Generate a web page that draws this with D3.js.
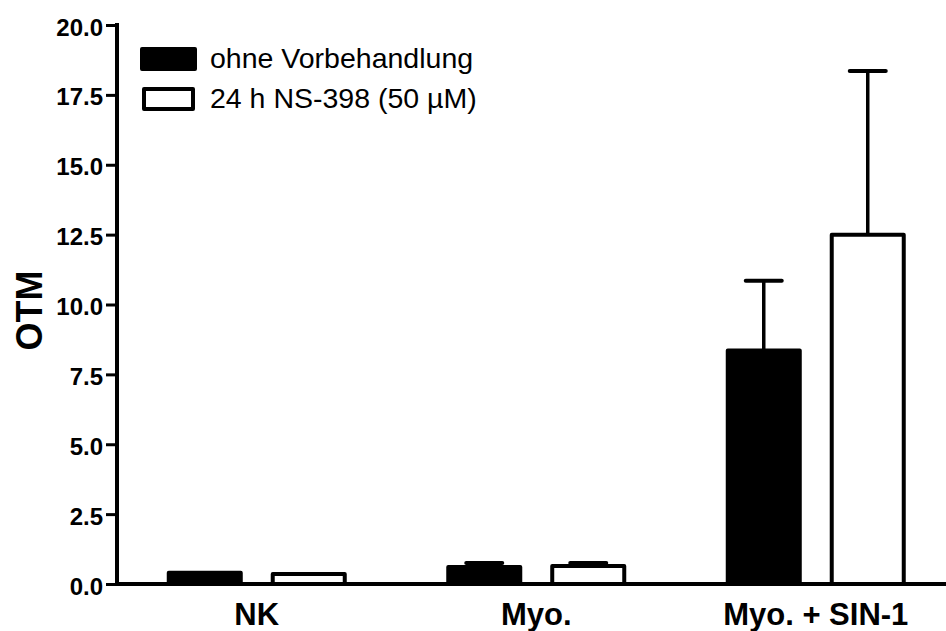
<!DOCTYPE html>
<html>
<head>
<meta charset="utf-8">
<script src="https://cdn.jsdelivr.net/npm/d3@7"></script>
<style>
  html, body { margin: 0; padding: 0; background: #fff; }
  svg { display: block; font-family: "Liberation Sans", Arial, sans-serif; }
</style>
</head>
<body>
<svg id="chart" width="946" height="631"></svg>
<script>
// Groups and treatment series
const categories = ["NK", "Myo.", "Myo. + SIN-1"];
const seriesNames = ["ohne Vorbehandlung", "24 h NS-398 (50 µM)"];
const untreatedMean = [0.40, 0.61, 8.35];
const untreatedErr  = [0.0, 0.14, 2.5];
const ns398Mean     = [0.36, 0.64, 12.5];
const ns398Err      = [0.0, 0.11, 5.85];
const yTicks = [0, 2.5, 5, 7.5, 10, 12.5, 15, 17.5, 20];
const yLabel = "OTM";

const svg = d3.select("#chart");
const x0 = 117, yBase = 584, yTop = 25, groupW = 279.5;
const FONT = "'Liberation Sans', Arial, sans-serif";

const y = d3.scaleLinear().domain([0, 20]).range([yBase, yTop]);
const x = d3.scaleBand().domain(categories).range([x0, x0 + 3 * groupW]);
const xs = d3.scaleBand().domain([0, 1])
  .range([groupW / 2 - 90, groupW / 2 + 90]).paddingInner(0.269).paddingOuter(0);

const rows = [];
categories.forEach((c, i) => {
  rows.push({ c, s: 0, v: untreatedMean[i], e: untreatedErr[i] });
  rows.push({ c, s: 1, v: ns398Mean[i], e: ns398Err[i] });
});

const sw = 4;
// Upper error bars, drawn beneath the bars
const eg = svg.append("g").attr("stroke", "#000").attr("stroke-linecap", "round");
rows.filter(d => d.e > 0).forEach(d => {
  const cx = x(d.c) + xs(d.s) + xs.bandwidth() / 2;
  eg.append("line").attr("x1", cx).attr("x2", cx)
    .attr("y1", y(d.v)).attr("y2", y(d.v + d.e)).attr("stroke-width", 3.5);
  eg.append("line").attr("x1", cx - 18).attr("x2", cx + 18)
    .attr("y1", y(d.v + d.e)).attr("y2", y(d.v + d.e)).attr("stroke-width", 4);
});

// Bars
svg.append("g").selectAll("rect").data(rows).join("rect")
  .attr("x", d => x(d.c) + xs(d.s) + sw / 2)
  .attr("width", xs.bandwidth() - sw)
  .attr("y", d => y(d.v))
  .attr("height", d => yBase - y(d.v))
  .attr("fill", d => d.s === 0 ? "#000" : "#fff")
  .attr("stroke", "#000")
  .attr("stroke-width", sw)
  .attr("stroke-linejoin", "round");

// Y axis
const yAxis = d3.axisLeft(y).tickValues(yTicks).tickFormat(d3.format(".1f")).tickSize(11).tickPadding(3);
const ya = svg.append("g").attr("transform", `translate(${x0},0)`).call(yAxis);
ya.select(".domain").attr("stroke-width", 4).attr("d", `M0,${yBase + 2}V${yTop - 2}`);
ya.selectAll(".tick line").attr("stroke-width", 3);
ya.selectAll(".tick text").attr("font-size", 24).attr("font-weight", "bold")
  .attr("font-family", FONT).attr("fill", "#000").attr("dy", "0.42em");

// X axis
const xAxis = d3.axisBottom(x).tickSize(0);
const xa = svg.append("g").attr("transform", `translate(0,${yBase})`).call(xAxis);
xa.select(".domain").attr("stroke-width", 4).attr("d", `M${x0 - 2},0H946`);
xa.selectAll(".tick text").attr("font-size", 31).attr("font-weight", "bold")
  .attr("font-family", FONT).attr("fill", "#000").attr("y", 41).attr("dy", 0);

// Y label
svg.append("text")
  .attr("transform", `translate(42,${(yBase + yTop) / 2 + 6}) rotate(-90)`)
  .attr("text-anchor", "middle")
  .attr("font-size", 36).attr("font-weight", "bold").text(yLabel);

// Legend
const lg = svg.append("g");
seriesNames.forEach((name, i) => {
  const ly = 59 + i * 40;
  lg.append("rect").attr("x", i === 0 ? 142 : 144).attr("y", ly - 10)
    .attr("width", i === 0 ? 53 : 49).attr("height", 20)
    .attr("fill", i === 0 ? "#000" : "#fff").attr("stroke", "#000").attr("stroke-width", 4)
    .attr("stroke-linejoin", "round");
  lg.append("text").attr("x", 210).attr("y", ly + 9).attr("font-size", 28.5).text(name);
});
</script>
</body>
</html>
